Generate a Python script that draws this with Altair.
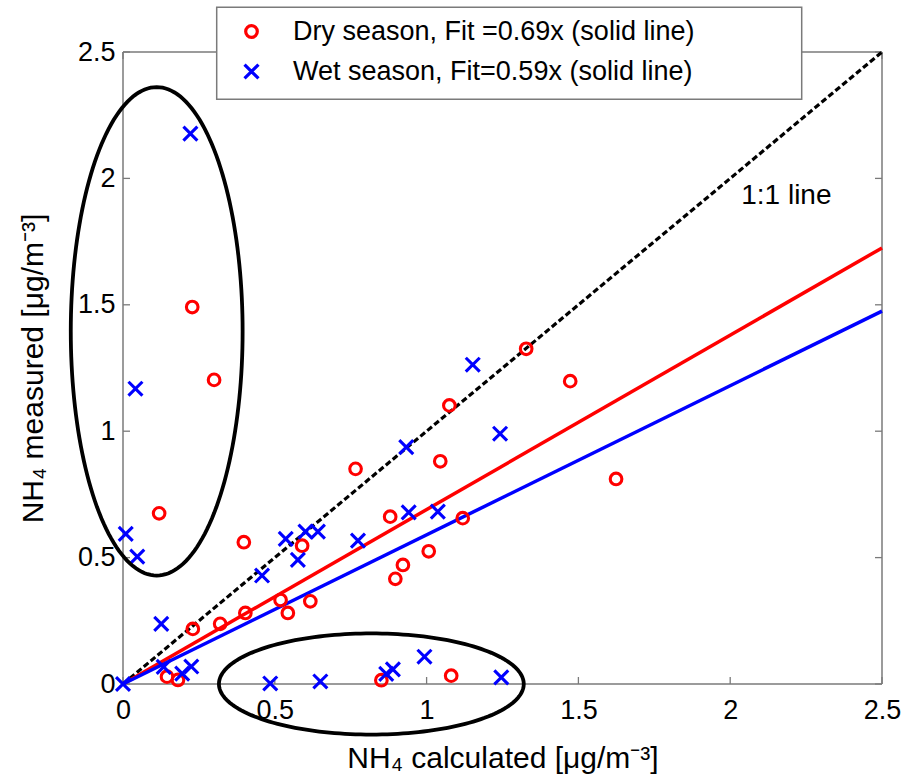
import altair as alt
import pandas as pd
import numpy as np

FONT = "Liberation Sans, Arial, Helvetica, sans-serif"

# ---- data ----
dry_x = [0.228, 0.300, 0.119, 0.398, 0.766, 0.590, 0.880, 0.230, 0.320, 0.403,
         0.519, 0.543, 0.617, 0.145, 0.181, 0.851, 1.328, 1.473, 1.075, 1.045,
         1.624, 1.119, 1.007, 0.922, 0.897, 1.081]
dry_y = [1.491, 1.203, 0.675, 0.561, 0.851, 0.547, 0.662, 0.218, 0.238, 0.281,
         0.332, 0.281, 0.327, 0.029, 0.016, 0.015, 1.326, 1.198, 1.102, 0.881,
         0.811, 0.656, 0.525, 0.471, 0.416, 0.033]
wet_x = [0.222, 0.041, 0.009, 0.047, 0.536, 0.601, 0.642, 0.576, 0.458, 0.774,
         0.126, 0.134, 0.225, 0.195, 0.000, 0.485, 0.650, 0.867, 0.889, 0.993,
         1.246, 1.152, 0.933, 1.242, 0.941, 1.037]
wet_y = [2.177, 1.168, 0.594, 0.504, 0.574, 0.603, 0.603, 0.491, 0.429, 0.567,
         0.238, 0.068, 0.069, 0.041, 0.000, 0.002, 0.010, 0.040, 0.058, 0.108,
         0.026, 1.263, 0.937, 0.990, 0.679, 0.682]

dry_label = "Dry season, Fit =0.69x (solid line)"
wet_label = "Wet season, Fit=0.59x (solid line)"
dry_slope = 0.69
wet_slope = 0.59

ticks = [0, 0.5, 1, 1.5, 2, 2.5]
x_title = "NH\u2084 calculated [\u03bcg/m\u207b\u00b3]"
y_title = "NH\u2084 measured [\u03bcg/m\u207b\u00b3]"

# ellipse annotations: centre x, centre y, radius x, radius y (data units)
ell_cx = [0.111, 0.818]
ell_cy = [1.395, 0.0]
ell_rx = [0.283, 0.502]
ell_ry = [0.966, 0.200]

W, H = 759, 632
RED, BLUE = "#ff0000", "#0000ff"
XS = alt.Scale(domain=[0, 2.5], nice=False, zero=False)
YS = alt.Scale(domain=[0, 2.5], nice=False, zero=False)
CS = alt.Scale(domain=[dry_label, wet_label], range=[RED, BLUE])

# ---- tables ----
pts = pd.concat([
    pd.DataFrame({"x": dry_x, "y": dry_y, "season": dry_label}),
    pd.DataFrame({"x": wet_x, "y": wet_y, "season": wet_label}),
], ignore_index=True)

lo, hi = ticks[0], ticks[-1]
frame = pd.DataFrame({
    "x": [lo, lo, lo, hi],
    "x2": [hi, hi, lo, hi],
    "y": [lo, hi, lo, lo],
    "y2": [lo, hi, hi, hi],
})
one = pd.DataFrame({"x": [lo, hi]})

t = np.linspace(0, 2 * np.pi, 181)
ell_rows = []
for k in range(len(ell_cx)):
    for i, a in enumerate(t):
        ell_rows.append({"e": k, "i": i,
                         "x": ell_cx[k] + ell_rx[k] * np.cos(a),
                         "y": ell_cy[k] + ell_ry[k] * np.sin(a)})
ell = pd.DataFrame(ell_rows)

tick_df = pd.DataFrame({"x": ticks, "y": ticks})

GRAY = "#7a7a7a"
TFS = 30

x_axis = alt.Axis(values=ticks, format="~g", grid=False, ticks=False, domain=False,
                  labelFont=FONT, labelFontSize=27, labelColor="black",
                  labelPadding=13, labelFlush=False,
                  title=x_title, titleFont=FONT, titleFontSize=TFS,
                  titleFontWeight="normal", titleColor="black",
                  titleX=W / 2, titleY=83, titleAlign="center",
                  titleBaseline="alphabetic")
y_axis = alt.Axis(values=ticks, format="~g", grid=False, ticks=False, domain=False,
                  labelFont=FONT, labelFontSize=27, labelColor="black",
                  labelPadding=8, labelFlush=False,
                  title=y_title, titleFont=FONT, titleFontSize=TFS,
                  titleFontWeight="normal", titleColor="black",
                  titleAngle=270, titleX=-81, titleY=H / 2, titleAlign="center",
                  titleBaseline="alphabetic")


def X(f="x"):
    return alt.X(f"{f}:Q", scale=XS, axis=x_axis)


def Y(f="y"):
    return alt.Y(f"{f}:Q", scale=YS, axis=y_axis)


# ---- frame ----
frame_l = alt.Chart(frame).mark_rule(color=GRAY, strokeWidth=1.5).encode(
    x=X(), x2="x2:Q", y=Y(), y2="y2:Q")

# ---- inward ticks ----
tb = alt.Chart(tick_df).mark_rule(color=GRAY, strokeWidth=1.3).encode(
    x=X(), y=alt.value(H), y2=alt.value(H - 7))
tt = alt.Chart(tick_df).mark_rule(color=GRAY, strokeWidth=1.3).encode(
    x=X(), y=alt.value(0), y2=alt.value(7))
tl = alt.Chart(tick_df).mark_rule(color=GRAY, strokeWidth=1.3).encode(
    y=Y(), x=alt.value(0), x2=alt.value(7))
tr = alt.Chart(tick_df).mark_rule(color=GRAY, strokeWidth=1.3).encode(
    y=Y(), x=alt.value(W), x2=alt.value(W - 7))

# ---- lines ----
identity = alt.Chart(one).transform_calculate(y="datum.x").mark_line(
    color="black", strokeWidth=3.2, strokeDash=[6, 3]).encode(x=X(), y=Y())

fit_dry = alt.Chart(one).transform_calculate(
    y=f"datum.x * {dry_slope}").mark_line(color=RED, strokeWidth=3.5).encode(
    x=X(), y=Y())
fit_wet = alt.Chart(one).transform_calculate(
    y=f"datum.x * {wet_slope}").mark_line(color=BLUE, strokeWidth=3.5).encode(
    x=X(), y=Y())

XPATH = "M-1.2,-1.2L1.2,1.2M-1.2,1.2L1.2,-1.2"
legend = alt.Legend(orient="none", legendX=115, legendY=-34, title=None,
                    labelFont=FONT, labelFontSize=27, labelColor="black",
                    labelLimit=0, labelOffset=28, rowPadding=12, padding=0,
                    symbolStrokeWidth=3.2, symbolSize=135)
points = alt.Chart(pts).mark_point(filled=False, strokeWidth=3.1, opacity=1,
                                   size=135).encode(
    x=X(), y=Y(),
    color=alt.Color("season:N", legend=legend, scale=CS),
    shape=alt.Shape("season:N", legend=legend,
                    scale=alt.Scale(domain=[dry_label, wet_label],
                                    range=["circle", XPATH])))

ellipses = alt.Chart(ell).mark_line(color="black", strokeWidth=3.8).encode(
    x=X(), y=Y(), detail="e:N", order="i:Q")

label_df = pd.DataFrame({"x": [2.185], "y": [1.93], "t": ["1:1 line"]})
one_label = alt.Chart(label_df).mark_text(font=FONT, fontSize=28, color="black",
                                          align="center", baseline="middle").encode(
    x=X(), y=Y(), text="t:N")

legend_box = alt.Chart(pd.DataFrame({"a": [0]})).mark_rect(
    fill="white", stroke=GRAY, strokeWidth=1.5).encode(
    x=alt.value(93.7), x2=alt.value(678.7), y=alt.value(-44.7), y2=alt.value(47.3))

chart = alt.layer(
    frame_l, tb, tt, tl, tr, identity,
    fit_dry, fit_wet, points, ellipses, one_label, legend_box
).properties(
    width=W, height=H,
    padding={"left": 123, "top": 52, "right": 26, "bottom": 100},
    autosize=alt.AutoSizeParams(type="none"),
    background="white",
).configure_view(stroke=None)

chart.save("out.html", embed_options={"renderer": "svg", "actions": False})
